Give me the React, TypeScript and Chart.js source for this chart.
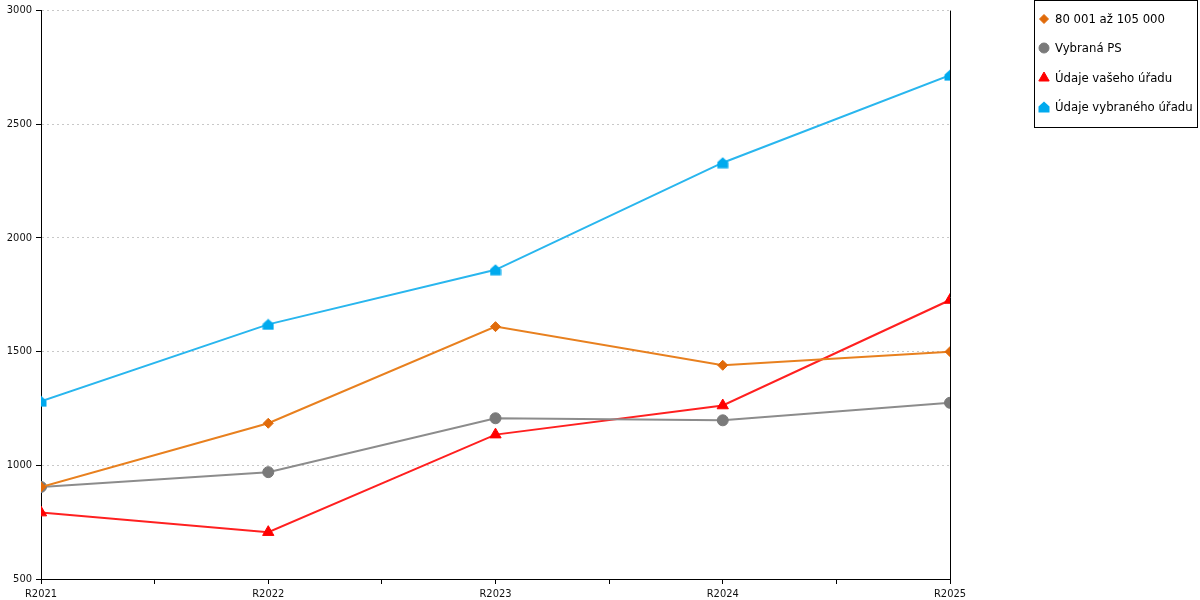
import React, { useEffect, useRef } from "react";
import { Chart, registerables } from "chart.js";
import { drawPoint } from "chart.js/helpers";

Chart.register(...registerables);

const categories = ["R2021", "R2022", "R2023", "R2024", "R2025"];
const seriesNames = ["80 001 až 105 000", "Vybraná PS", "Údaje vašeho úřadu", "Údaje vybraného úřadu"];
const orangeValues = [905, 1185, 1610, 1440, 1500];
const grayValues = [905, 970, 1207, 1198, 1275];
const redValues = [792, 706, 1135, 1263, 1727];
const blueValues = [1282, 1620, 1860, 2331, 2716];
const yTicks = [500, 1000, 1500, 2000, 2500, 3000];

const lineColors = ["#E8801F", "#8C8C8C", "#FF2020", "#29B6EE"];
const markerColors = ["#E06A0A", "#7A7A7A", "#FF0000", "#00AAEE"];

const FONT = "'DejaVu Sans Condensed', 'DejaVu Sans', sans-serif";

function makeHouse(color: string): HTMLCanvasElement {
  const c = document.createElement("canvas");
  c.width = 12;
  c.height = 12;
  const ctx = c.getContext("2d")!;
  ctx.fillStyle = color;
  ctx.beginPath();
  ctx.moveTo(6, 0.5);
  ctx.lineTo(11.5, 5.5);
  ctx.lineTo(11.5, 11.5);
  ctx.lineTo(0.5, 11.5);
  ctx.lineTo(0.5, 5.5);
  ctx.closePath();
  ctx.fill();
  return c;
}

export default function App() {
  const ref = useRef<HTMLCanvasElement>(null);

  useEffect(() => {
    if (!ref.current) return;
    const house = makeHouse(markerColors[3]);
    const styles: any[] = ["rectRot", "circle", "triangle", house];
    const radii = [5, 5.5, 6.5, 6];
    const allValues = [orangeValues, grayValues, redValues, blueValues];

    const legendPlugin = {
      id: "customLegend",
      afterDraw(chart: any) {
        const ctx = chart.ctx;
        const area = chart.chartArea;
        ctx.save();
        ctx.strokeStyle = "#000";
        ctx.lineWidth = 1;
        ctx.beginPath();
        ctx.moveTo(Math.round(area.right) + 0.5, area.top);
        ctx.lineTo(Math.round(area.right) + 0.5, area.bottom + 5);
        ctx.stroke();
        ctx.strokeRect(1034.5, 0.5, 163, 127);
        ctx.font = "13px " + FONT;
        ctx.textBaseline = "middle";
        ctx.textAlign = "left";
        const ys = [19, 48, 78, 107];
        seriesNames.forEach((name, i) => {
          if (i === 3) {
            ctx.drawImage(house, 1044 - 6, ys[i] - 6);
          } else {
            ctx.fillStyle = markerColors[i];
            ctx.strokeStyle = markerColors[i];
            drawPoint(ctx, { pointStyle: styles[i], radius: radii[i] - 0.5, borderWidth: 1 } as any, 1044, ys[i]);
          }
          ctx.fillStyle = "#000";
          ctx.fillText(name, 1055, ys[i] + 1);
        });
        ctx.restore();
      },
    };

    const chart = new Chart(ref.current, {
      type: "line",
      data: {
        datasets: allValues.map((vals, i) => ({
          label: seriesNames[i],
          data: vals.map((v, j) => ({ x: j, y: v })),
          borderColor: lineColors[i],
          backgroundColor: markerColors[i],
          pointBackgroundColor: markerColors[i],
          pointBorderColor: markerColors[i],
          pointBorderWidth: 1,
          pointStyle: styles[i],
          pointRadius: radii[i],
          borderWidth: 2,
          tension: 0,
          fill: false,
        })),
      },
      options: {
        responsive: false,
        animation: false,
        layout: { padding: { top: 10, right: 250, left: 0, bottom: 0 } },
        plugins: {
          legend: { display: false },
          tooltip: { enabled: false },
        },
        scales: {
          x: {
            type: "linear",
            min: 0,
            max: categories.length - 1,
            afterFit(scale: any) {
              scale.height = 21;
            },
            ticks: {
              stepSize: 0.5,
              autoSkip: false,
              maxRotation: 0,
              padding: 4,
              color: "#111",
              font: { family: FONT, size: 11 },
              callback: (v: any) => (Number.isInteger(v) ? categories[v] : ""),
            },
            grid: {
              drawOnChartArea: false,
              drawTicks: true,
              tickLength: 5,
              tickColor: "#000",
            },
            border: { color: "#000", width: 1 },
          },
          y: {
            min: 500,
            max: 3000,
            afterFit(scale: any) {
              scale.width = 41;
            },
            afterBuildTicks(scale: any) {
              scale.ticks = yTicks.map((v) => ({ value: v }));
            },
            ticks: {
              padding: 4,
              color: "#111",
              font: { family: FONT, size: 11 },
              callback: (v: any) => String(v),
            },
            grid: {
              color: "#C8C8C8",
              tickColor: "#000",
              tickLength: 5,
              lineWidth: 1,
            },
            border: { color: "#000", width: 1, dash: [2, 3] },
          },
        },
      },
      plugins: [legendPlugin],
    });
    return () => chart.destroy();
  }, []);

  return (
    <div style={{ position: "absolute", left: 0, top: 0, width: 1200, height: 600, background: "#fff" }}>
      <canvas ref={ref} width={1200} height={600} />
    </div>
  );
}
